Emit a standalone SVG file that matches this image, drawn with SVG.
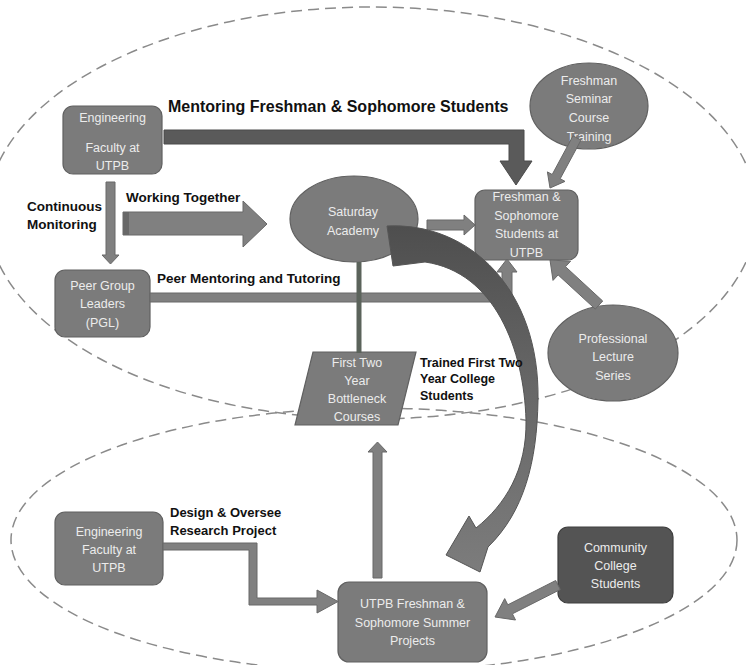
<svg xmlns="http://www.w3.org/2000/svg" width="746" height="665" viewBox="0 0 746 665">
<defs>
<style>
.region{fill:none;stroke:#8a8a8a;stroke-width:1.5;stroke-dasharray:11 6}
.node{fill:#7b7b7b;stroke:#606060;stroke-width:1.2}
.dark{fill:#545454;stroke:#3e3e3e;stroke-width:1.2}
.nt{font-family:"Liberation Sans",Arial,sans-serif;font-size:12.5px;fill:#ececec;text-anchor:middle}
.arrow{fill:#808080;stroke:#686868;stroke-width:1}
.darrow{fill:#5a5a5a;stroke:#4a4a4a;stroke-width:1}
.lbl{font-family:"Liberation Sans",Arial,sans-serif;font-weight:bold;font-size:13.5px;fill:#111}
</style>
<linearGradient id="curveGrad" x1="0" y1="226" x2="0" y2="572" gradientUnits="userSpaceOnUse">
<stop offset="0" stop-color="#4e4e4e"/>
<stop offset="0.45" stop-color="#666666"/>
<stop offset="1" stop-color="#7c7c7c"/>
</linearGradient>
</defs>
<rect x="0" y="0" width="746" height="665" fill="#ffffff"/>

<g id="regions">
<ellipse class="region" cx="372" cy="213" rx="385" ry="206"/>
<ellipse class="region" cx="374" cy="540" rx="363" ry="132"/>
</g>

<g id="node-eng-faculty-top">
<rect class="node" x="63" y="106" width="99" height="68" rx="10"/>
<text class="nt" x="112.5" y="121.5">Engineering</text>
<text class="nt" x="112.5" y="151.5">Faculty at</text>
<text class="nt" x="112.5" y="169.5">UTPB</text>
</g>

<g id="node-pgl">
<rect class="node" x="55" y="270" width="95" height="67" rx="10"/>
<text class="nt" x="102.5" y="289.5">Peer Group</text>
<text class="nt" x="102.5" y="308">Leaders</text>
<text class="nt" x="102.5" y="327">(PGL)</text>
</g>

<g id="node-saturday">
<ellipse class="node" cx="354" cy="219" rx="64" ry="43"/>
<text class="nt" x="353" y="216">Saturday</text>
<text class="nt" x="353" y="234.5">Academy</text>
</g>

<g id="node-fs-students">
<rect class="node" x="475" y="190" width="103" height="70" rx="10"/>
<text class="nt" x="526.5" y="201">Freshman &amp;</text>
<text class="nt" x="526.5" y="219.5">Sophomore</text>
<text class="nt" x="526.5" y="238">Students at</text>
<text class="nt" x="526.5" y="257">UTPB</text>
</g>

<g id="node-seminar">
<ellipse class="node" cx="589" cy="106" rx="59" ry="43"/>
<text class="nt" x="589" y="84.5">Freshman</text>
<text class="nt" x="589" y="103">Seminar</text>
<text class="nt" x="589" y="121.5">Course</text>
<text class="nt" x="589" y="140.5">Training</text>
</g>

<g id="node-lecture">
<ellipse class="node" cx="613" cy="353" rx="65" ry="48"/>
<text class="nt" x="613" y="342.5">Professional</text>
<text class="nt" x="613" y="361">Lecture</text>
<text class="nt" x="613" y="379.5">Series</text>
</g>

<g id="node-bottleneck">
<polygon class="node" points="313,352 416,352 398,425 295,425"/>
<text class="nt" x="357" y="366.5">First Two</text>
<text class="nt" x="357" y="384.5">Year</text>
<text class="nt" x="357" y="402.5">Bottleneck</text>
<text class="nt" x="357" y="421">Courses</text>
</g>

<g id="node-eng-faculty-bottom">
<rect class="node" x="55" y="512" width="108" height="73" rx="10"/>
<text class="nt" x="109" y="535.5">Engineering</text>
<text class="nt" x="109" y="553.5">Faculty at</text>
<text class="nt" x="109" y="571.5">UTPB</text>
</g>

<g id="node-summer">
<rect class="node" x="338" y="582" width="149" height="80" rx="11"/>
<text class="nt" x="412.5" y="607.5">UTPB Freshman &amp;</text>
<text class="nt" x="412.5" y="626.5">Sophomore Summer</text>
<text class="nt" x="412.5" y="644.5">Projects</text>
</g>

<g id="node-community">
<rect class="dark" x="558" y="527" width="115" height="76" rx="10"/>
<text class="nt" x="615.5" y="551.5">Community</text>
<text class="nt" x="615.5" y="569.5">College</text>
<text class="nt" x="615.5" y="587.5">Students</text>
</g>

<g id="connectors">
<polygon class="darrow" points="164,130 524,130 524,161 532,161 516,185 500,161 509,161 509,144 164,144"/>
<polygon class="arrow" points="106,182 115,182 115,255 119,255 110.5,264 102,255 106,255"/>
<polygon class="arrow" points="123,212 243,212 243,201 267,224 243,247 243,235 123,235"/>
<rect x="123" y="212" width="6" height="23" fill="#686868"/>
<polygon class="arrow" points="427,220 464,220 464,215 475,225 464,235 464,230 427,230"/>
<polygon class="arrow" points="150,293 502,293 502,272 497,272 507,259 517,272 512,272 512,302 150,302"/>
<line x1="359" y1="262" x2="359" y2="353" stroke="#5b635b" stroke-width="5"/>
<polygon class="arrow" points="581,140.1 560.2,178.7 565,181.4 550,188 547.4,171.9 552.2,174.5 573,135.9"/>
<polygon class="arrow" points="602.7,301 565.5,266.7 570.6,261.2 550,260 553,280.4 558.1,274.9 595.3,309.1"/>
<path fill="url(#curveGrad)" stroke="#555555" stroke-width="1" d="M387,226 C470,222 540,290 538,400 C537,462 524,512 488,547 L480,572 L446,555 L469,516 L476,528 C505,505 527,470 526,420 C524,350 495,272 425,262 L393,266 Z"/>
<polygon class="arrow" points="373,578 373,452 368,452 377.5,442 387,452 382,452 382,578"/>
<polygon class="arrow" points="163,543 257,543 257,598 317,598 317,590 338,601.5 317,613 317,605 249,605 249,550 163,550"/>
<polygon class="arrow" points="560.3,589.5 512.4,613.8 515.5,620 495,617 504.7,598.6 507.8,604.8 555.7,580.5"/>
</g>

<g id="labels">
<text class="lbl" x="168" y="112" style="font-size:16px">Mentoring Freshman &amp; Sophomore Students</text>
<text class="lbl" x="27" y="211">Continuous</text>
<text class="lbl" x="27" y="229">Monitoring</text>
<text class="lbl" x="126" y="202">Working Together</text>
<text class="lbl" x="157" y="283">Peer Mentoring and Tutoring</text>
<text class="lbl" x="420" y="367" style="font-size:12.5px">Trained First Two</text>
<text class="lbl" x="420" y="383" style="font-size:12.5px"> Year College</text>
<text class="lbl" x="420" y="400" style="font-size:12.5px">Students</text>
<text class="lbl" x="170" y="517" style="font-size:13px">Design &amp; Oversee</text>
<text class="lbl" x="170" y="535" style="font-size:13px">Research Project</text>
</g>
</svg>
